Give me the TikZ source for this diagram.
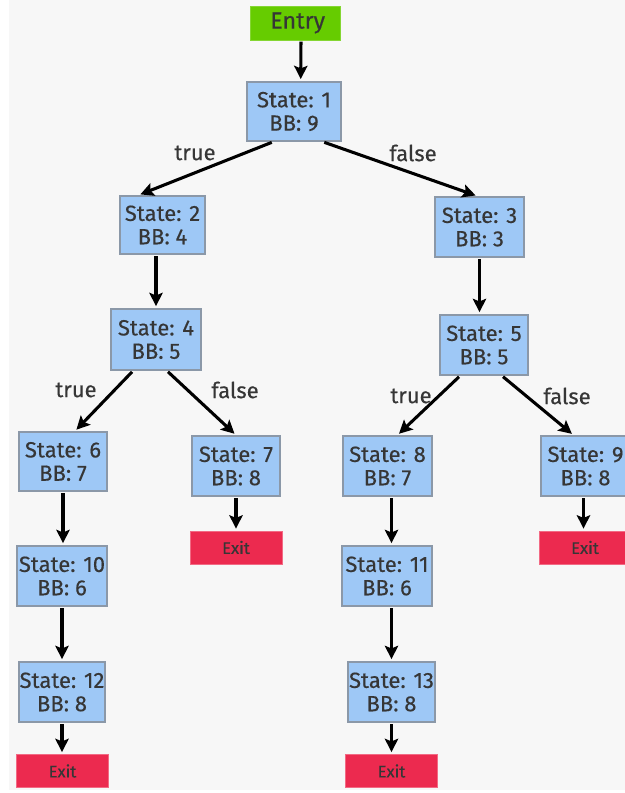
\documentclass[tikz,border=0pt]{standalone}
\usepackage{fontspec}
\setmainfont{Fira Sans}
\newfontfamily\nodefont{Fira Sans}[FakeBold=0.35]
\usetikzlibrary{arrows.meta,calc}
\definecolor{bgc}{HTML}{F7F7F7}
\definecolor{boxfill}{HTML}{9EC8F6}
\definecolor{boxdraw}{HTML}{8B98A8}
\definecolor{entryc}{HTML}{66CC00}
\definecolor{exitc}{HTML}{EC2A4F}
\definecolor{txt}{HTML}{363636}
\tikzset{
  stbox/.style={draw=boxdraw, fill=boxfill, line width=1.3pt, inner sep=0pt,
    minimum width=66pt, minimum height=45pt, align=center, text=txt,
    font=\nodefont\fontsize{16.5}{17.5}\selectfont},
  entrybox/.style={fill=entryc, draw=entryc!80!white, line width=0.6pt, inner sep=0pt,
    minimum width=67.5pt, minimum height=25.5pt, text=txt, font=\nodefont\fontsize{17.5}{19}\selectfont},
  exitbox/.style={fill=exitc, draw=exitc!70!white, line width=0.6pt, inner sep=0pt,
    minimum width=69pt, minimum height=24.75pt, text=txt, font=\nodefont\fontsize{12.5}{14}\selectfont},
  arr/.style={line width=2.3pt, -{Stealth[length=10pt,width=10pt,inset=2pt]},
    shorten <=1pt, shorten >=1.5pt},
  lbl/.style={text=txt, font=\nodefont\fontsize{16.5}{18}\selectfont, inner sep=0pt}
}
\begin{document}
\begin{tikzpicture}[x=0.75pt,y=-0.75pt]
\clip (0,0) rectangle (625,793);
\fill[white] (0,0) rectangle (625,793);
\fill[bgc] (9,0) rectangle (625,790);

\node[entrybox] (entry) at (295,23) {\hspace*{4pt}Entry};
\node[stbox, minimum width=70.5pt, minimum height=44.25pt] (s1) at (294,111.5) {State: 1\\BB: 9};
\node[stbox, minimum width=63.75pt, minimum height=43.5pt] (s2) at (162.5,225) {State: 2\\BB: 4};
\node[stbox, minimum width=66.75pt] (s3) at (479.5,227) {State: 3\\BB: 3};
\node[stbox, minimum width=67.5pt, minimum height=45.75pt] (s4) at (156,339.5) {State: 4\\BB: 5};
\node[stbox] (s5) at (484,345) {State: 5\\BB: 5};
\node[stbox, minimum height=44.25pt] (s6) at (63,461.5) {State: 6\\BB: 7};
\node[stbox] (s7) at (236,466) {State: 7\\BB: 8};
\node[stbox, minimum width=66.75pt] (s8) at (387.5,466) {State: 8\\BB: 7};
\node[stbox, minimum width=66.75pt] (s9) at (585.5,466) {State: 9\\BB: 8};
\node[stbox, minimum width=67.5pt] (s10) at (62,576) {State: 10\\BB: 6};
\node[stbox, minimum width=67.5pt] (s11) at (387,576) {State: 11\\BB: 6};
\node[stbox, minimum width=64.5pt] (s12) at (62,692) {State: 12\\BB: 8};
\node[stbox, minimum width=65.25pt] (s13) at (391.5,692) {State: 13\\BB: 8};

\node[exitbox] (x7) at (236,547.5) {Exit};
\node[exitbox] (x9) at (585,547.5) {Exit};
\node[exitbox] (x12) at (62.5,771) {Exit};
\node[exitbox] (x13) at (391.5,771) {Exit};

% connectors
\draw[arr] ([xshift=4.5pt]entry.south) -- ([xshift=5pt]s1.north);
\draw[arr] ([xshift=-15.75pt]s1.south) -- ([xshift=-18pt]s2.north);
\draw[arr] ([xshift=21.75pt]s1.south) -- ([xshift=-1.5pt]s3.north);
\draw[arr] (s2.south -| s4.north) -- (s4.north);
\draw[arr] (s3.south) -- (s3.south |- s5.north);
\draw[arr] ([xshift=-17.25pt]s4.south) -- ([xshift=9pt]s6.north);
\draw[arr] ([xshift=8.25pt]s4.south) -- (s7.north);
\draw[arr] ([xshift=-18pt]s5.south) -- ([xshift=7.5pt]s8.north);
\draw[arr] ([xshift=13.5pt]s5.south) -- ([xshift=-9pt]s9.north);
\draw[arr] (s6.south) -- (s6.south |- s10.north);
\draw[arr] (s10.south) -- (s10.south |- s12.north);
\draw[arr] (s12.south) -- (s12.south |- x12.north);
\draw[arr] (s7.south) -- (s7.south |- x7.north);
\draw[arr] ([xshift=3pt]s8.south) -- ([xshift=3pt]s8.south |- s11.north);
\draw[arr] (s13.north |- s11.south) -- (s13.north);
\draw[arr] (s13.south) -- (s13.south |- x13.north);
\draw[arr] ([xshift=-1.5pt]s9.south) -- ([xshift=-1.5pt]s9.south |- x9.north);

% labels
\node[lbl] (l1) at (195,153) {true};
\node[lbl] (l2) at (413,153) {false};
\node[lbl] (l3) at (76,390) {true};
\node[lbl] (l4) at (235,390) {false};
\node[lbl] (l5) at (411,396) {true};
\node[lbl] (l6) at (567,396) {false};
\end{tikzpicture}
\end{document}
